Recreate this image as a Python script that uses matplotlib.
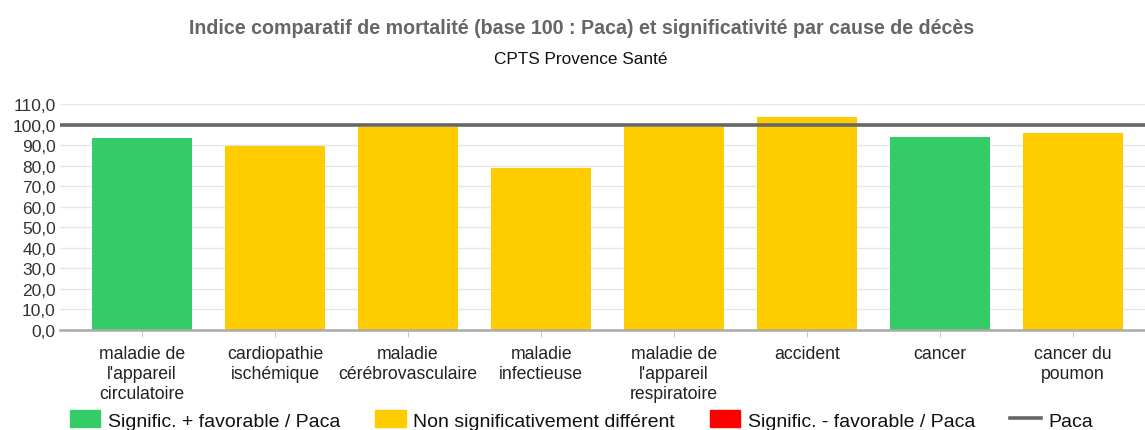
import matplotlib
matplotlib.use("Agg")
import matplotlib.pyplot as plt
from matplotlib.patches import Patch
from matplotlib.lines import Line2D
from matplotlib.ticker import FuncFormatter

plt.rcParams['font.family'] = ['Liberation Sans', 'DejaVu Sans']

causes = ["maladie de\nl'appareil\ncirculatoire", "cardiopathie\nischémique",
          "maladie\ncérébrovasculaire", "maladie\ninfectieuse",
          "maladie de\nl'appareil\nrespiratoire", "accident", "cancer",
          "cancer du\npoumon"]
icm = [93.3, 89.4, 99.0, 78.8, 99.0, 103.5, 94.1, 95.7]
signif = ["fav", "nsd", "nsd", "nsd", "nsd", "nsd", "fav", "nsd"]
ref_paca = 100

colors = {"fav": "#33cc66", "nsd": "#ffcc00", "defav": "#ff0000"}
legend_labels = ["Signific. + favorable / Paca", "Non significativement différent",
                 "Signific. - favorable / Paca", "Paca"]

W, H = 1145, 431
fig = plt.figure(figsize=(W / 100, H / 100), dpi=100)
ax = fig.add_axes([60 / W, 1 - 331 / H, 1 - 60 / W, (331 - 105) / H])

x = list(range(len(causes)))
ax.bar(x, icm, width=0.75, color=[colors[s] for s in signif], zorder=2)
ax.axhline(ref_paca, color="#666666", lw=2.6, zorder=3)

ax.set_xlim(-0.617, 7.54)
ax.set_ylim(0, 110)
ax.set_yticks(range(0, 111, 10))
ax.yaxis.set_major_formatter(FuncFormatter(lambda v, p: ("%.1f" % v).replace(".", ",")))
ax.grid(axis="y", color="#e6e6e6", lw=1, zorder=0)
ax.set_xticks(x)
ax.set_xticklabels(causes, fontsize=12.7, color="#222222", linespacing=1.22, va="top")
ax.tick_params(axis="x", length=5, color="#cccccc", pad=6)
ax.tick_params(axis="y", length=0, labelsize=12.5, colors="#333333", pad=3)
for s in ["top", "right", "left"]:
    ax.spines[s].set_visible(False)
ax.spines["bottom"].set_color("#aaaaaa")
ax.spines["bottom"].set_linewidth(1.8)

fig.text(0.508, 1 - 29 / H, "Indice comparatif de mortalité (base 100 : Paca) et significativité par cause de décès",
         ha="center", va="center", fontsize=14.1, fontweight="bold", color="#666666")
fig.text(0.507, 1 - 60 / H, "CPTS Provence Santé", ha="center", va="center",
         fontsize=12.4, color="#111111")

handles = [Patch(color=colors["fav"]), Patch(color=colors["nsd"]),
           Patch(color=colors["defav"]), Line2D([], [], color="#666666", lw=2.6)]
fig.legend(handles, legend_labels, loc="center", bbox_to_anchor=(0.508, 1 - 421 / H),
           ncol=4, frameon=False, fontsize=14, handlelength=1.55, handleheight=0.95,
           handletextpad=0.4, columnspacing=1.8, labelcolor="#111111",
           borderpad=0, borderaxespad=0)

fig.savefig("out.png", dpi=100)
